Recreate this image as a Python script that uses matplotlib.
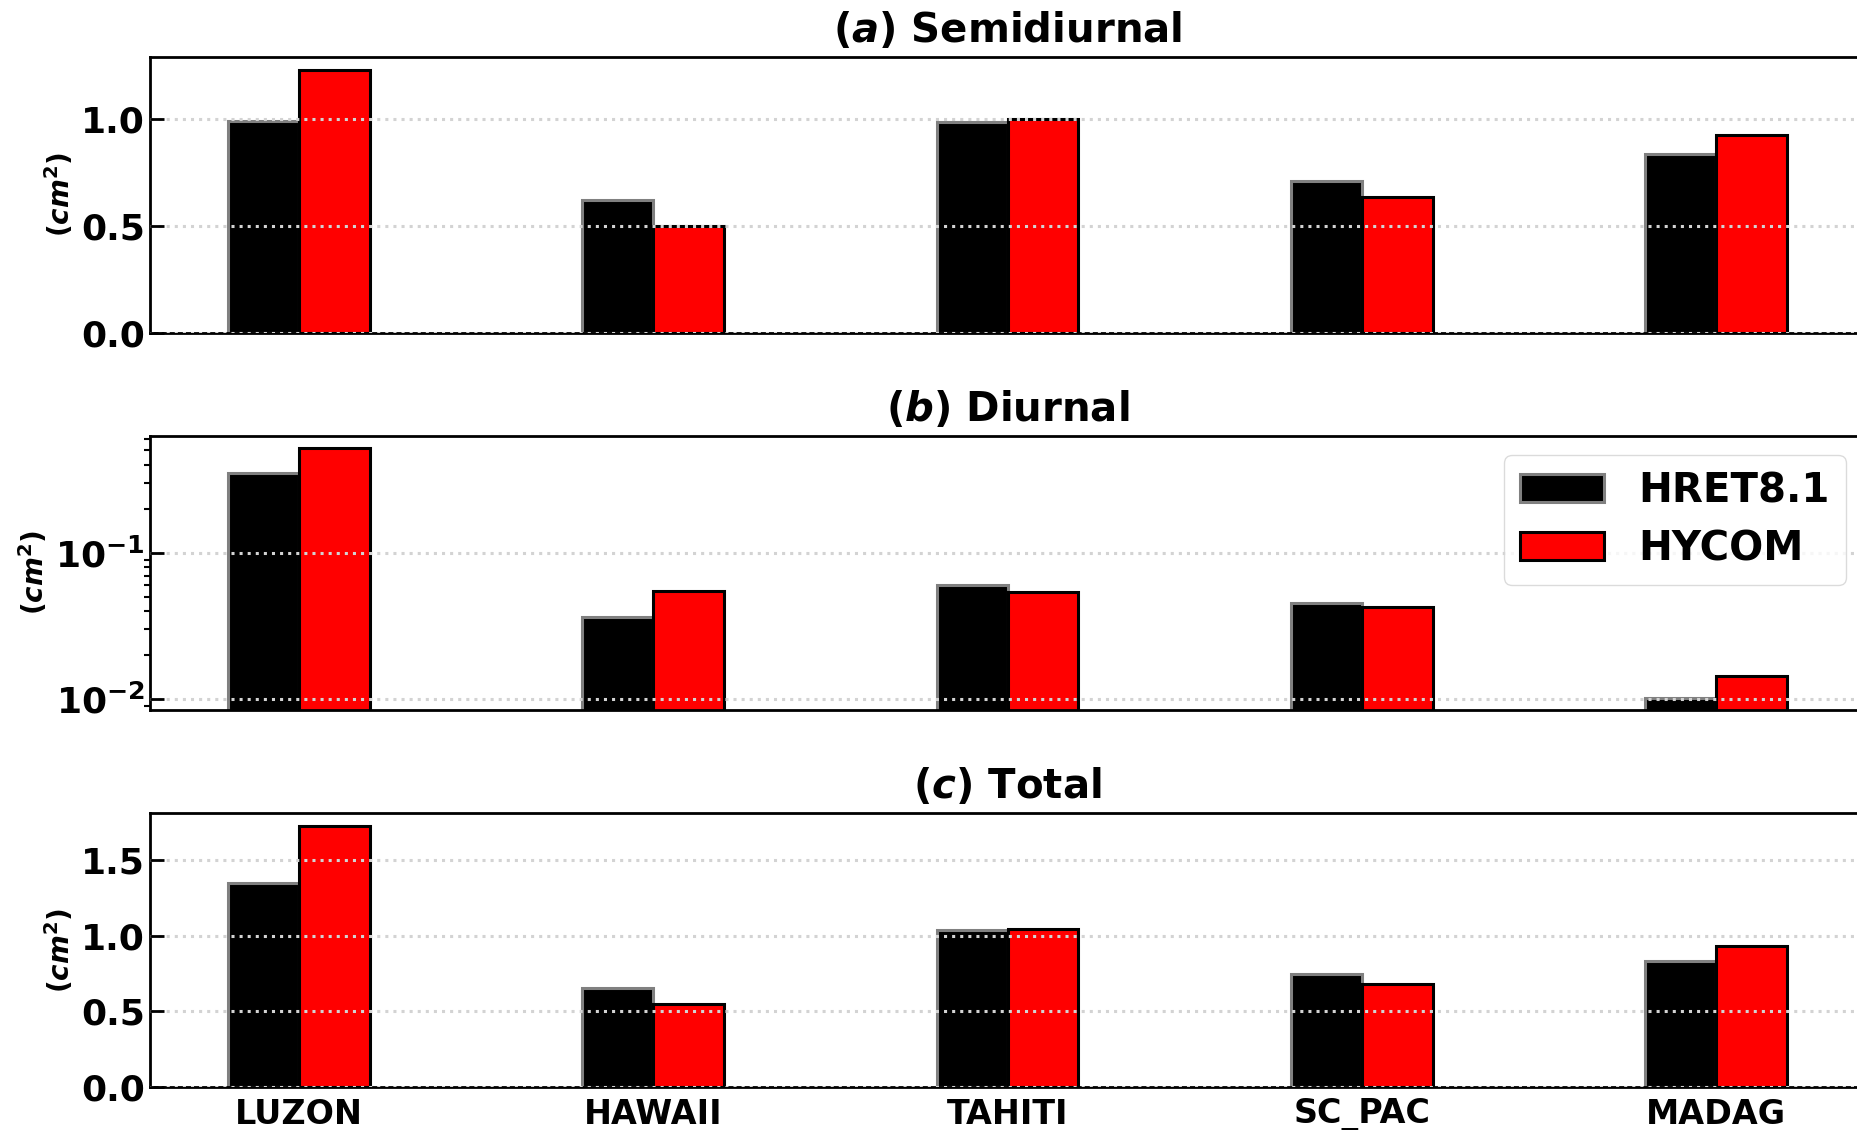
import numpy as np
import matplotlib
matplotlib.use('Agg')
import matplotlib.pyplot as plt
from matplotlib.ticker import MultipleLocator

# du lieu doc tu hinh
tram = ['LUZON', 'HAWAII', 'TAHITI', 'SC_PAC', 'MADAG']
nhan = ['HRET8.1', 'HYCOM']

semi_hret = [0.99, 0.62, 0.985, 0.71, 0.835]
semi_hycom = [1.228, 0.50, 1.00, 0.635, 0.925]

diu_hret = [0.353, 0.0367, 0.0605, 0.0458, 0.0102]
diu_hycom = [0.522, 0.0552, 0.0542, 0.0426, 0.0145]

tot_hret = [1.35, 0.655, 1.038, 0.75, 0.836]
tot_hycom = [1.727, 0.548, 1.047, 0.68, 0.93]

tieude = [r'($\mathbfit{a}$) Semidiurnal', r'($\mathbfit{b}$) Diurnal', r'($\mathbfit{c}$) Total']

plt.rcParams['font.family'] = 'DejaVu Sans'
plt.rcParams['font.weight'] = 'bold'
plt.rcParams['mathtext.fontset'] = 'dejavusans'

fig = plt.figure(figsize=(18.57, 11.3), dpi=100)

# vi tri cac truc (toa do figure)
trai = 0.0808
rong = 0.9235
vitri = [(0.7053, 0.2443), (0.3717, 0.2425), (0.0381, 0.2424)]

x = np.arange(len(tram))
w = 0.2
dulieu = [(semi_hret, semi_hycom), (diu_hret, diu_hycom), (tot_hret, tot_hycom)]

for i in range(3):
    ax = fig.add_axes([trai, vitri[i][0], rong, vitri[i][1]])
    h1, h2 = dulieu[i]
    ax.bar(x - w / 2, h1, w, color='black', edgecolor='gray', linewidth=2.2, label=nhan[0])
    ax.bar(x + w / 2, h2, w, color='red', edgecolor='black', linewidth=2.2, label=nhan[1])
    ax.set_xlim(-0.42, 4.42)
    if i == 1:
        ax.set_yscale('log')
        ax.set_ylim(0.00846, 0.628)
        ax.tick_params(axis='y', which='minor', direction='out', length=4, width=1.5)
    else:
        ax.yaxis.set_major_locator(MultipleLocator(0.5))
        ax.yaxis.set_major_formatter('{x:.1f}')
    ax.set_axisbelow(False)
    ax.yaxis.grid(True, linestyle=':', color='lightgray', linewidth=2.2)
    ax.tick_params(axis='y', which='major', direction='in', length=10, width=2, labelsize=26)
    ax.tick_params(axis='x', length=0, labelsize=24, pad=8)
    ax.set_xticks(x)
    if i == 2:
        ax.set_xticklabels(tram, fontweight='bold')
    else:
        ax.set_xticklabels([])
    for s in ax.spines.values():
        s.set_linewidth(2)
    ax.set_ylabel('(' + r'$\mathbfit{cm}^{\mathbf{2}}$' + ')', fontsize=20, fontweight='bold')
    ax.set_title(tieude[i], fontsize=29, fontweight='bold', pad=11)
    for lab in ax.get_yticklabels():
        lab.set_fontweight('bold')
    if i == 1:
        ax.legend(loc='upper right', bbox_to_anchor=(1846 / 1857, 1 - 455 / 1130),
                  bbox_transform=fig.transFigure, borderaxespad=0,
                  prop={'size': 29, 'weight': 'bold'}, handlelength=2.1,
                  handletextpad=0.85, labelspacing=0.45, edgecolor='lightgray',
                  fancybox=True)

fig.savefig('out.png', dpi=100)
